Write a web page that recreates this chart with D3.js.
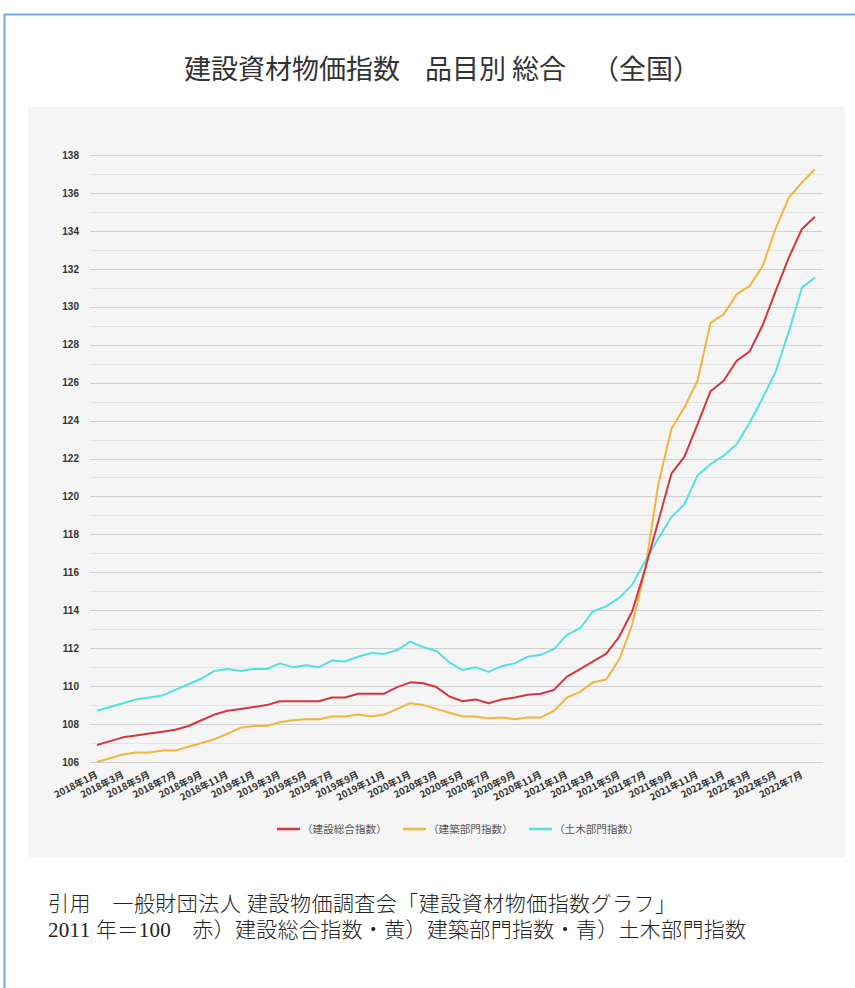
<!DOCTYPE html>
<html><head><meta charset="utf-8">
<script src="https://cdn.jsdelivr.net/npm/d3@7"></script>
<style>
html,body{margin:0;padding:0;background:#fff;}
svg{display:block;}
</style></head>
<body>
<svg id="c" width="855" height="988"></svg>
<script>
// ---- data ----
const months = [
 "2018年1月","2018年2月","2018年3月","2018年4月","2018年5月","2018年6月","2018年7月","2018年8月","2018年9月","2018年10月","2018年11月","2018年12月",
 "2019年1月","2019年2月","2019年3月","2019年4月","2019年5月","2019年6月","2019年7月","2019年8月","2019年9月","2019年10月","2019年11月","2019年12月",
 "2020年1月","2020年2月","2020年3月","2020年4月","2020年5月","2020年6月","2020年7月","2020年8月","2020年9月","2020年10月","2020年11月","2020年12月",
 "2021年1月","2021年2月","2021年3月","2021年4月","2021年5月","2021年6月","2021年7月","2021年8月","2021年9月","2021年10月","2021年11月","2021年12月",
 "2022年1月","2022年2月","2022年3月","2022年4月","2022年5月","2022年6月","2022年7月","2022年8月"
];
const sogo = [ // 建設総合指数 (red)
 106.9,107.1,107.3,107.4,107.5,107.6,107.7,107.9,108.2,108.5,108.7,108.8,
 108.9,109.0,109.2,109.2,109.2,109.2,109.4,109.4,109.6,109.6,109.6,109.95,
 110.2,110.15,109.95,109.45,109.2,109.3,109.1,109.3,109.4,109.55,109.6,109.8,
 110.5,110.9,111.3,111.7,112.6,113.95,116.2,118.7,121.2,122.1,123.8,125.55,
 126.1,127.15,127.65,129.05,130.85,132.6,134.1,134.75
];
const kenchiku = [ // 建築部門指数 (yellow)
 106.0,106.2,106.4,106.5,106.5,106.6,106.6,106.8,107.0,107.2,107.5,107.8,
 107.9,107.9,108.1,108.2,108.25,108.25,108.4,108.4,108.5,108.4,108.5,108.8,
 109.1,109.0,108.8,108.6,108.4,108.4,108.3,108.35,108.25,108.35,108.35,108.7,
 109.4,109.7,110.2,110.35,111.4,113.25,116.2,120.65,123.55,124.7,126.1,129.15,
 129.6,130.65,131.1,132.15,134.15,135.75,136.55,137.25
];
const doboku = [ // 土木部門指数 (cyan)
 108.7,108.9,109.1,109.3,109.4,109.5,109.8,110.1,110.4,110.8,110.9,110.8,
 110.9,110.9,111.2,111.0,111.1,111.0,111.35,111.3,111.55,111.75,111.7,111.9,
 112.35,112.05,111.85,111.25,110.85,111.0,110.75,111.05,111.2,111.55,111.65,111.95,
 112.7,113.05,113.95,114.2,114.65,115.35,116.6,117.8,118.9,119.6,121.1,121.7,
 122.15,122.75,123.9,125.2,126.6,128.7,131.0,131.55
];
const seriesNames = ["（建設総合指数）","（建築部門指数）","（土木部門指数）"];
const yTicks = [106,108,110,112,114,116,118,120,122,124,126,128,130,132,134,136,138];
const titleParts = ["建設資材物価指数","品目別 総合","（全国）"];
const footer1 = "引用　一般財団法人 建設物価調査会「建設資材物価指数グラフ」";
const footer2 = "2011 年＝100　赤）建設総合指数・黄）建築部門指数・青）土木部門指数";

// ---- drawing ----
const colors = ["#d2363f","#f2b43c","#52e2de"];
const series = [sogo, kenchiku, doboku];
const svg = d3.select("#c");

svg.append("rect").attr("x",4.5).attr("y",14.5).attr("width",880).attr("height",1000)
  .attr("fill","#fff").attr("stroke","#72a7dd").attr("stroke-width",2);

const tt = svg.append("text").attr("y",79)
  .attr("font-family","'Noto Sans CJK JP','Noto Sans',sans-serif").attr("font-size",27)
  .attr("fill","#333");
const titleX = [184,425,592];
titleParts.forEach((p,i)=>tt.append("tspan").attr("x",titleX[i]).text(p));

svg.append("rect").attr("x",28).attr("y",107).attr("width",817).attr("height",750).attr("fill","#f5f5f5");

const x = d3.scalePoint().domain(months).range([97,815]);
const y = d3.scaleLinear().domain([106,138]).range([762,155]);

// gridlines every 1
const gl = svg.append("g");
gl.selectAll("line").data(d3.range(106,139,1)).join("line")
  .attr("x1",90).attr("x2",823)
  .attr("y1",d=>Math.round(y(d))+0.5).attr("y2",d=>Math.round(y(d))+0.5)
  .attr("stroke",d=>d%2===0?"#cfcfcf":"#e4e4e4").attr("stroke-width",1);

// y axis
const ya = svg.append("g").attr("transform","translate(90,0)")
  .call(d3.axisLeft(y).tickValues(yTicks).tickSize(0).tickPadding(11).tickFormat(d3.format("d")));
ya.select(".domain").remove();
ya.selectAll("text").attr("font-family","'Liberation Sans',Arial,sans-serif")
  .attr("font-size",10).attr("font-weight","bold").attr("fill","#333");

// x axis
const xTicks = months.filter((d,i)=>i%2===0);
const xa = svg.append("g").attr("transform","translate(0,762)")
  .call(d3.axisBottom(x).tickValues(xTicks).tickSize(0).tickPadding(0));
xa.select(".domain").remove();
xa.selectAll("text")
  .attr("font-family","'Noto Sans CJK JP','Liberation Sans',sans-serif")
  .attr("font-size",9.5).attr("font-weight","bold").attr("fill","#333")
  .attr("text-anchor","end").attr("dy",0)
  .attr("transform","translate(1,15) rotate(-27)");

// lines
const line = d3.line().x((d,i)=>x(months[i])).y(d=>y(d));
[1,2,0].forEach(k=>{
  svg.append("path").datum(series[k]).attr("d",line)
    .attr("fill","none").attr("stroke",colors[k]).attr("stroke-width",2)
    .attr("stroke-linejoin","round");
});

// legend
const lg = svg.append("g").attr("transform","translate(277,829)");
seriesNames.forEach((n,k)=>{
  const g = lg.append("g").attr("transform",`translate(${k*126},0)`);
  g.append("line").attr("x1",0).attr("x2",23).attr("y1",0).attr("y2",0)
    .attr("stroke",colors[k]).attr("stroke-width",2.5);
  g.append("text").attr("x",25).attr("y",3.7)
    .attr("font-family","'Noto Sans CJK JP',sans-serif").attr("font-size",10.6)
    .attr("fill","#555").text(n);
});

// footer
const ff = "'Liberation Serif','Noto Sans CJK JP',serif";
svg.append("text").attr("x",48).attr("y",911).attr("font-family",ff).attr("font-size",21)
  .attr("font-weight",300).attr("fill","#222")
  .attr("textLength",628).attr("lengthAdjust","spacing").text(footer1);
svg.append("text").attr("x",48).attr("y",937).attr("font-family",ff).attr("font-size",21)
  .attr("font-weight",300).attr("fill","#222")
  .attr("textLength",698).attr("lengthAdjust","spacing").text(footer2);
</script>
</body></html>
